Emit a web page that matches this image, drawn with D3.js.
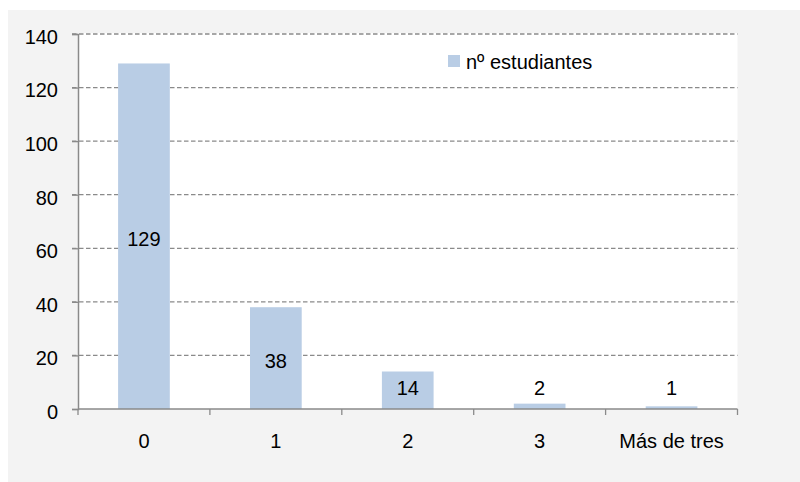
<!DOCTYPE html>
<html>
<head>
<meta charset="utf-8">
<script src="https://cdn.jsdelivr.net/npm/d3@7"></script>
<style>
  html, body { margin: 0; padding: 0; background: #ffffff; }
  svg { display: block; }
  text { font-family: "Liberation Sans", Arial, sans-serif; fill: #000; }
</style>
</head>
<body>
<svg id="chart" width="800" height="482"></svg>
<script>
// Number of students by category
const categories = ["0", "1", "2", "3", "Más de tres"];
const students = [129, 38, 14, 2, 1];
const yTicks = [0, 20, 40, 60, 80, 100, 120, 140];
const seriesName = "nº estudiantes";

const svg = d3.select("#chart");
const W = 800, H = 482;
const plot = { left: 78, right: 737.5, top: 34, bottom: 409 };
const barColor = "#b9cde5";
const axisColor = "#8a8a8a";

// Outer panel
svg.append("rect").attr("x", 8).attr("y", 10).attr("width", W - 8).attr("height", H - 10)
  .attr("fill", "#f3f3f3");
// Plot area
svg.append("rect").attr("x", plot.left).attr("y", plot.top - 1)
  .attr("width", plot.right - plot.left).attr("height", plot.bottom - plot.top + 1)
  .attr("fill", "#ffffff");

const x = d3.scaleBand().domain(categories).range([plot.left, plot.right]).padding(0);
const y = d3.scaleLinear().domain([0, 140]).range([plot.bottom, plot.top]);

// Dashed horizontal gridlines (extend across the tick marks)
svg.append("g").selectAll("line").data(yTicks.filter(d => d > 0)).join("line")
  .attr("x1", plot.left - 6).attr("x2", plot.right)
  .attr("y1", d => y(d)).attr("y2", d => y(d))
  .attr("stroke", axisColor).attr("stroke-width", 1.3)
  .attr("stroke-dasharray", "4.5,2.5");

// Bars
const barW = x.bandwidth() * 0.392;
svg.append("g").selectAll("rect").data(categories).join("rect")
  .attr("x", (c) => x(c) + (x.bandwidth() - barW) / 2)
  .attr("y", (c, i) => y(students[i]))
  .attr("width", barW)
  .attr("height", (c, i) => y(0) - y(students[i]))
  .attr("fill", barColor);

// Y axis
const yAxis = d3.axisLeft(y).tickValues(yTicks).tickSize(6).tickPadding(14);
const gy = svg.append("g").attr("transform", `translate(${plot.left},0)`).call(yAxis);
gy.select(".domain").attr("stroke", axisColor).attr("stroke-width", 1.5);
gy.selectAll(".tick line").attr("stroke", axisColor).attr("stroke-width", 1.3);
gy.selectAll(".tick text").attr("font-size", 20).attr("dy", "0.47em")
  .style("font-family", "'Liberation Sans', Arial, sans-serif").attr("fill", "#000");

// X axis with ticks at category boundaries
const gx = svg.append("g").attr("transform", `translate(0,${plot.bottom})`);
gx.append("line").attr("x1", plot.left).attr("x2", plot.right)
  .attr("stroke", axisColor).attr("stroke-width", 1.5);
const bounds = categories.map(c => x(c)).concat([plot.right]);
gx.selectAll("line.tk").data(bounds).join("line").attr("class", "tk")
  .attr("x1", d => d).attr("x2", d => d).attr("y1", 0).attr("y2", 6)
  .attr("stroke", axisColor).attr("stroke-width", 1.3);
gx.selectAll("text").data(categories).join("text")
  .attr("x", c => x(c) + x.bandwidth() / 2).attr("y", 39)
  .attr("text-anchor", "middle").attr("font-size", 20)
  .text(c => c);

// Value labels: centred in the bar, kept above the baseline for short bars
svg.append("g").selectAll("text").data(categories).join("text")
  .attr("x", c => x(c) + x.bandwidth() / 2)
  .attr("y", (c, i) => Math.min((y(students[i]) + y(0)) / 2 + 10, y(0) - 14))
  .attr("text-anchor", "middle").attr("font-size", 20)
  .text((c, i) => students[i]);

// Legend
const lg = svg.append("g");
lg.append("rect").attr("x", 448).attr("y", 55).attr("width", 12).attr("height", 12)
  .attr("fill", barColor);
lg.append("text").attr("x", 466).attr("y", 68.5).attr("font-size", 20).text(seriesName);
</script>
</body>
</html>
